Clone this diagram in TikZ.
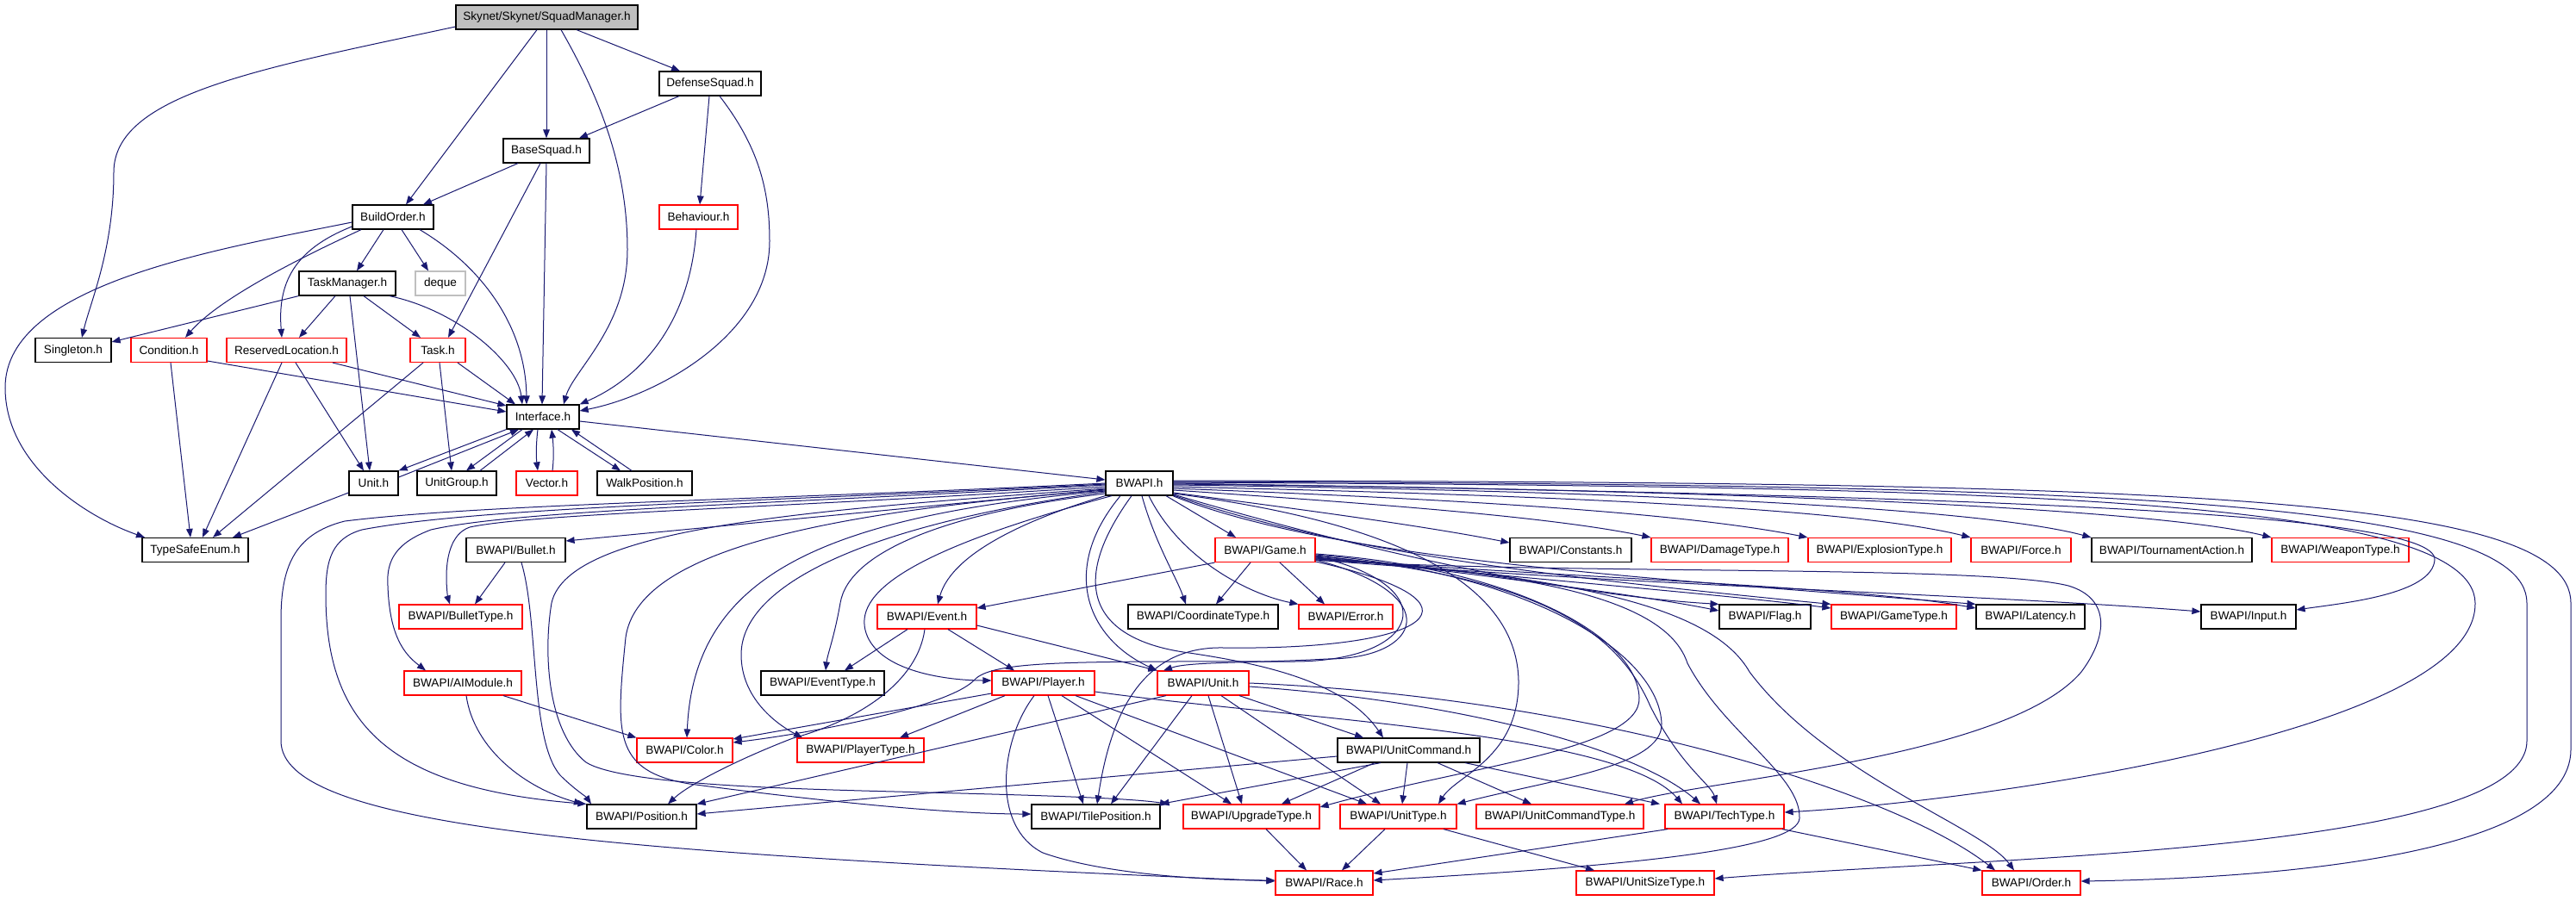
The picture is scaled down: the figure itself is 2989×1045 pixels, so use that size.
\documentclass[tikz,border=0pt]{standalone}
\usepackage{fontspec}
\setmainfont{Liberation Sans}
\usetikzlibrary{arrows.meta}
\definecolor{edgecol}{HTML}{191970}
\definecolor{rootfill}{HTML}{BFBFBF}
\tikzset{
  nb/.style={draw=black, line width=0.6pt, fill=white, inner sep=0pt, minimum height=14pt, font=\fontsize{6.8}{8}\selectfont, text=black},
  nr/.style={nb, draw=red},
  ng/.style={nb, draw=rootfill},
  e/.style={draw=edgecol, line width=0.5pt, -{Triangle[length=5pt,width=3.8pt]}},
}
\begin{document}
\begin{tikzpicture}[x=0.5pt,y=-0.5pt]
\useasboundingbox (0,0) rectangle (2989,1045);
\fill[white] (0,0) rectangle (2989,1045);
% ---------- nodes ----------
\node[nb, fill=rootfill, minimum width=105.5pt] (root) at (634.5,20) {Skynet/Skynet/SquadManager.h};
\node[nb, minimum width=59pt] (DefenseSquad) at (824,97) {DefenseSquad.h};
\node[nb, minimum width=50pt] (BaseSquad) at (634,175) {BaseSquad.h};
\node[nb, minimum width=47pt] (BuildOrder) at (456,252) {BuildOrder.h};
\node[nr, minimum width=45.5pt] (Behaviour) at (810.5,252) {Behaviour.h};
\node[nb, minimum width=56pt] (TaskManager) at (403,329) {TaskManager.h};
\node[ng, minimum width=29pt] (deque) at (511,329) {deque};
\node[nb, minimum width=44pt] (Singleton) at (85,406.5) {Singleton.h};
\node[nr, minimum width=44pt] (Condition) at (196,406.5) {Condition.h};
\node[nr, minimum width=69.5pt] (ReservedLocation) at (332.5,406.5) {ReservedLocation.h};
\node[nr, minimum width=32pt] (Task) at (508,406.5) {Task.h};
\node[nb, minimum width=42pt] (Interface) at (630,484) {Interface.h};
\node[nb, minimum width=28.5pt] (Unit) at (433.5,561) {Unit.h};
\node[nb, minimum width=46pt] (UnitGroup) at (530,561) {UnitGroup.h};
\node[nr, minimum width=35.5pt] (Vector) at (634.5,561) {Vector.h};
\node[nb, minimum width=55pt] (WalkPosition) at (748,561) {WalkPosition.h};
\node[nb, minimum width=39pt] (BWAPI) at (1322,561) {BWAPI.h};
\node[nb, minimum width=61.5pt] (TypeSafeEnum) at (226.5,638.5) {TypeSafeEnum.h};
\node[nb, minimum width=57.5pt] (Bullet) at (598.5,638.5) {BWAPI/Bullet.h};
\node[nr, minimum width=58pt] (Game) at (1468,638.5) {BWAPI/Game.h};
\node[nb, minimum width=70.5pt] (Constants) at (1822.5,638.5) {BWAPI/Constants.h};
\node[nr, minimum width=79.5pt] (DamageType) at (1995.5,638.5) {BWAPI/DamageType.h};
\node[nr, minimum width=83pt] (ExplosionType) at (2181,638.5) {BWAPI/ExplosionType.h};
\node[nr, minimum width=58pt] (Force) at (2345,638.5) {BWAPI/Force.h};
\node[nb, minimum width=93pt] (TournamentAction) at (2520,638.5) {BWAPI/TournamentAction.h};
\node[nr, minimum width=79.5pt] (WeaponType) at (2715.5,638.5) {BWAPI/WeaponType.h};
\node[nr, minimum width=71.5pt] (BulletType) at (534.5,716) {BWAPI/BulletType.h};
\node[nr, minimum width=57.5pt] (Event) at (1075.5,716) {BWAPI/Event.h};
\node[nb, minimum width=87pt] (CoordinateType) at (1396,716) {BWAPI/CoordinateType.h};
\node[nr, minimum width=54.5pt] (Error) at (1561.5,716) {BWAPI/Error.h};
\node[nb, minimum width=53pt] (Flag) at (2048,716) {BWAPI/Flag.h};
\node[nr, minimum width=72.5pt] (GameType) at (2197.5,716) {BWAPI/GameType.h};
\node[nb, minimum width=63pt] (Latency) at (2356,716) {BWAPI/Latency.h};
\node[nb, minimum width=55pt] (Input) at (2609,716) {BWAPI/Input.h};
\node[nr, minimum width=68pt] (AIModule) at (537,793) {BWAPI/AIModule.h};
\node[nb, minimum width=71.5pt] (EventType) at (954.5,793) {BWAPI/EventType.h};
\node[nr, minimum width=59.5pt] (Player) at (1210.5,793) {BWAPI/Player.h};
\node[nr, minimum width=53pt] (BUnit) at (1396,793) {BWAPI/Unit.h};
\node[nr, minimum width=55.5pt] (Color) at (794.5,871) {BWAPI/Color.h};
\node[nr, minimum width=73.5pt] (PlayerType) at (998.5,871) {BWAPI/PlayerType.h};
\node[nb, minimum width=82.5pt] (UnitCommand) at (1634.5,871) {BWAPI/UnitCommand.h};
\node[nb, minimum width=63.5pt] (Position) at (744.5,948) {BWAPI/Position.h};
\node[nb, minimum width=74.5pt] (TilePosition) at (1271.5,948) {BWAPI/TilePosition.h};
\node[nr, minimum width=79pt] (UpgradeType) at (1452,948) {BWAPI/UpgradeType.h};
\node[nr, minimum width=67.5pt] (UnitType) at (1622.5,948) {BWAPI/UnitType.h};
\node[nr, minimum width=97pt] (UnitCommandType) at (1810,948) {BWAPI/UnitCommandType.h};
\node[nr, minimum width=69pt] (TechType) at (2001,948) {BWAPI/TechType.h};
\node[nr, minimum width=56.5pt] (Race) at (1536.5,1025) {BWAPI/Race.h};
\node[nr, minimum width=80pt] (UnitSizeType) at (1909,1025) {BWAPI/UnitSizeType.h};
\node[nr, minimum width=57pt] (Order) at (2357,1025) {BWAPI/Order.h};
% ---------- Skynet part ----------
\draw[e] (root.west |- 0,31) .. controls (300,80) and (132,110) .. (132,200) .. controls (132,290) and (105,350) .. (95,0 |- Singleton.north);
\draw[e] (623,0 |- root.south) -- (471,0 |- BuildOrder.north);
\draw[e] (634,0 |- root.south) -- (634,0 |- BaseSquad.north);
\draw[e] (651,0 |- root.south) .. controls (700,120) and (728,200) .. (728,290) .. controls (728,380) and (665,430) .. (654,0 |- Interface.north);
\draw[e] (669,0 |- root.south) -- (789,0 |- DefenseSquad.north);
\draw[e] (788,0 |- DefenseSquad.south) -- (672,0 |- BaseSquad.north);
\draw[e] (823,0 |- DefenseSquad.south) -- (812,0 |- Behaviour.north);
\draw[e] (835,0 |- DefenseSquad.south) .. controls (880,170) and (893,220) .. (893,280) .. controls (893,390) and (760,460) .. (Interface.east |- 0,477);
\draw[e] (601,0 |- BaseSquad.south) -- (491,0 |- BuildOrder.north);
\draw[e] (627,0 |- BaseSquad.south) -- (520,0 |- Task.north);
\draw[e] (634,0 |- BaseSquad.south) -- (629,0 |- Interface.north);
\draw[e] (BuildOrder.west |- 0,258) .. controls (250,290) and (6,330) .. (6,450) .. controls (6,540) and (100,600) .. (168,0 |- TypeSafeEnum.north);
\draw[e] (BuildOrder.west |- 0,263) .. controls (340,290) and (322,330) .. (327,0 |- ReservedLocation.north);
\draw[e] (419,0 |- BuildOrder.south) .. controls (380,285) and (260,340) .. (215,0 |- Condition.north);
\draw[e] (445,0 |- BuildOrder.south) -- (414,0 |- TaskManager.north);
\draw[e] (466,0 |- BuildOrder.south) -- (497,0 |- deque.north);
\draw[e] (487,0 |- BuildOrder.south) .. controls (560,310) and (610,380) .. (611,0 |- Interface.north);
\draw[e] (808,0 |- Behaviour.south) .. controls (800,380) and (740,440) .. (Interface.north east);
\draw[e] (TaskManager.south west) -- (Singleton.east |- 0,397);
\draw[e] (389,0 |- TaskManager.south) -- (347,0 |- ReservedLocation.north);
\draw[e] (406,0 |- TaskManager.south) -- (429,0 |- Unit.north);
\draw[e] (422,0 |- TaskManager.south) -- (488,0 |- Task.north);
\draw[e] (452,0 |- TaskManager.south) .. controls (530,360) and (600,420) .. (606,0 |- Interface.north);
\draw[e] (198,0 |- Condition.south) -- (221,0 |- TypeSafeEnum.north);
\draw[e] (Condition.east |- 0,419) -- (Interface.west |- 0,478);
\draw[e] (327,0 |- ReservedLocation.south) -- (235,0 |- TypeSafeEnum.north);
\draw[e] (343,0 |- ReservedLocation.south) -- (422,0 |- Unit.north);
\draw[e] (386,0 |- ReservedLocation.south) -- (Interface.west |- 0,471);
\draw[e] (491,0 |- Task.south) -- (247,0 |- TypeSafeEnum.north);
\draw[e] (510,0 |- Task.south) -- (524,0 |- UnitGroup.north);
\draw[e] (531,0 |- Task.south) -- (598,0 |- Interface.north);
\draw[e] (Interface.south west) -- (Unit.north east);
\draw[e] (Unit.east |- 0,554) -- (602,0 |- Interface.south);
\draw[e] (606,0 |- Interface.south) -- (541,0 |- UnitGroup.north);
\draw[e] (557,0 |- UnitGroup.north) -- (619,0 |- Interface.south);
\draw[e] (624,0 |- Interface.south) .. controls (622,515) and (622,530) .. (624,0 |- Vector.north);
\draw[e] (641,0 |- Vector.north) .. controls (643,530) and (642,515) .. (640,0 |- Interface.south);
\draw[e] (647,0 |- Interface.south) -- (720,0 |- WalkPosition.north);
\draw[e] (733,0 |- WalkPosition.north) -- (663,0 |- Interface.south);
\draw[e] (Unit.west |- 0,572) -- (270,0 |- TypeSafeEnum.north);
\draw[e] (Interface.east |- 0,489) -- (BWAPI.west |- 0,557);
% ---------- BWAPI.h to the left ----------
\draw[e] (BWAPI.west |- 0,568) -- (Bullet.east |- 0,628);
\draw[e] (BWAPI.west |- 0,565) .. controls (900,590) and (620,596) .. (545,612) .. controls (522,620) and (518,650) .. (518,670) .. controls (518,685) and (520,695) .. (522,0 |- BulletType.north);
\draw[e] (BWAPI.west |- 0,563) .. controls (900,585) and (600,592) .. (500,615) .. controls (460,630) and (448,650) .. (450,680) .. controls (452,740) and (470,760) .. (494,0 |- AIModule.north);
\draw[e] (BWAPI.west |- 0,562) .. controls (900,582) and (560,588) .. (420,615) .. controls (385,625) and (378,650) .. (378,690) .. controls (378,840) and (450,915) .. (Position.north west);
\draw[e] (BWAPI.west |- 0,561) .. controls (900,580) and (560,585) .. (400,605) .. controls (340,620) and (326,660) .. (326,720) -- (326,860) .. controls (326,960) and (700,990) .. (Race.west |- 0,1023);
\draw[e] (BWAPI.west |- 0,569) .. controls (950,595) and (740,640) .. (726,740) .. controls (715,850) and (710,895) .. (800,910) .. controls (950,930) and (1100,945) .. (TilePosition.west |- 0,945);
\draw[e] (BWAPI.west |- 0,567) .. controls (950,592) and (660,610) .. (640,700) .. controls (630,760) and (636,850) .. (680,885) .. controls (720,910) and (900,915) .. (1000,918) .. controls (1150,922) and (1300,925) .. (1356,0 |- UpgradeType.north);
\draw[e] (BWAPI.west |- 0,570) .. controls (950,600) and (805,670) .. (797,0 |- Color.north);
\draw[e] (BWAPI.west |- 0,571) .. controls (1000,610) and (860,680) .. (860,760) .. controls (860,810) and (900,840) .. (931,0 |- PlayerType.north);
\draw[e] (BWAPI.west |- 0,573) .. controls (1100,595) and (985,640) .. (975,700) .. controls (968,740) and (960,760) .. (958,0 |- EventType.north);
\draw[e] (BWAPI.south west) .. controls (1200,600) and (1105,640) .. (1088,0 |- Event.north);
\draw[e] (1290,0 |- BWAPI.south) .. controls (1050,640) and (990,690) .. (1005,735) .. controls (1020,780) and (1100,790) .. (Player.west |- 0,790);
\draw[e] (1300,0 |- BWAPI.south) .. controls (1230,660) and (1260,740) .. (BUnit.north west);
\draw[e] (1313,0 |- BWAPI.south) .. controls (1230,690) and (1280,745) .. (1380,758) .. controls (1460,770) and (1560,790) .. (1605,0 |- UnitCommand.north);
\draw[e] (1325,0 |- BWAPI.south) .. controls (1340,630) and (1365,670) .. (1376,0 |- CoordinateType.north);
\draw[e] (1333,0 |- BWAPI.south) .. controls (1370,650) and (1450,690) .. (Error.north west);
\draw[e] (1353,0 |- BWAPI.south) -- (1434,0 |- Game.north);
% ---------- BWAPI.h to the right ----------
\draw[e] (BWAPI.east |- 0,572) .. controls (1500,590) and (1650,610) .. (Constants.west |- 0,630);
\draw[e] (BWAPI.east |- 0,569) .. controls (1600,585) and (1800,600) .. (DamageType.north west);
\draw[e] (BWAPI.east |- 0,567) .. controls (1700,580) and (1950,595) .. (ExplosionType.north west);
\draw[e] (BWAPI.east |- 0,565) .. controls (1800,575) and (2150,590) .. (Force.north west);
\draw[e] (BWAPI.east |- 0,563) .. controls (1900,570) and (2300,590) .. (TournamentAction.north west);
\draw[e] (BWAPI.east |- 0,562) .. controls (2000,568) and (2500,590) .. (WeaponType.north west);
\draw[e] (BWAPI.east |- 0,574) .. controls (1550,630) and (1800,690) .. (Flag.north west);
\draw[e] (BWAPI.east |- 0,575) .. controls (1550,640) and (1800,670) .. (GameType.north west);
\draw[e] (BWAPI.east |- 0,576) .. controls (1550,650) and (1900,670) .. (Latency.north west);
\draw[e] (BWAPI.east |- 0,561) .. controls (2200,575) and (2830,590) .. (2825,650) .. controls (2822,690) and (2720,700) .. (Input.east |- 0,708);
\draw[e] (BWAPI.east |- 0,560) .. controls (2300,565) and (2870,575) .. (2872,700) .. controls (2874,850) and (2300,930) .. (TechType.east |- 0,943);
\draw[e] (BWAPI.east |- 0,559) .. controls (2400,563) and (2932,575) .. (2932,700) -- (2932,860) .. controls (2932,990) and (2300,995) .. (UnitSizeType.east |- 0,1020);
\draw[e] (BWAPI.east |- 0,558) .. controls (2500,560) and (2983,572) .. (2983,700) -- (2983,870) .. controls (2983,1000) and (2600,1020) .. (Order.east |- 0,1023);
\draw[e] (BWAPI.east |- 0,573) .. controls (1650,610) and (1760,690) .. (1762,790) .. controls (1763,880) and (1690,900) .. (1669,0 |- UnitType.north);
% ---------- Game.h ----------
\draw[e] (Game.south west) -- (Event.east |- 0,706);
\draw[e] (1451,0 |- Game.south) -- (1411,0 |- CoordinateType.north);
\draw[e] (1485,0 |- Game.south) -- (1537,0 |- Error.north);
\draw[e] (Game.east |- 0,645) .. controls (1700,665) and (1900,690) .. (Flag.west |- 0,709);
\draw[e] (Game.east |- 0,647) .. controls (1750,670) and (2000,690) .. (GameType.west |- 0,706);
\draw[e] (Game.east |- 0,648) .. controls (1800,670) and (2150,680) .. (Latency.west |- 0,706);
\draw[e] (Game.east |- 0,650) .. controls (1900,680) and (2300,690) .. (Input.west |- 0,710);
\draw[e] (Game.east |- 0,646) .. controls (1680,680) and (1650,768) .. (1500,768) .. controls (1250,768) and (1150,766) .. (1130,790) .. controls (1100,820) and (950,850) .. (Color.east |- 0,862);
\draw[e] (Game.east |- 0,650) .. controls (1680,690) and (1650,765) .. (1540,765) .. controls (1450,770) and (1380,768) .. (1350,0 |- BUnit.north);
\draw[e] (Game.east |- 0,652) .. controls (1740,700) and (1660,755) .. (1420,752) .. controls (1330,750) and (1290,820) .. (1273,0 |- TilePosition.north);
\draw[e] (Game.east |- 0,650) .. controls (1800,668) and (2300,655) .. (2400,680) .. controls (2450,695) and (2445,740) .. (2415,780) .. controls (2330,880) and (1980,905) .. (1885,0 |- UnitCommandType.north);
\draw[e] (Game.east |- 0,649) .. controls (1800,665) and (1935,700) .. (1958,770) .. controls (2000,850) and (2090,900) .. (2088,950) .. controls (2086,985) and (1900,1005) .. (Race.east |- 0,1022);
\draw[e] (Game.east |- 0,648) .. controls (1850,670) and (1990,710) .. (2030,780) .. controls (2120,900) and (2300,960) .. (2337,0 |- Order.north);
\draw[e] (Game.east |- 0,646) .. controls (1800,670) and (1880,740) .. (1915,820) .. controls (1950,890) and (1985,910) .. (1992,0 |- TechType.north);
\draw[e] (Game.east |- 0,644) .. controls (1780,665) and (1925,760) .. (1928,840) .. controls (1930,890) and (1800,905) .. (UnitType.north east);
\draw[e] (Game.east |- 0,643) .. controls (1760,660) and (1900,740) .. (1902,810) .. controls (1905,870) and (1700,890) .. (UpgradeType.east |- 0,937);
% ---------- Bullet, AIModule, Event ----------
\draw[e] (586,0 |- Bullet.south) -- (551,0 |- BulletType.north);
\draw[e] (605,0 |- Bullet.south) .. controls (625,720) and (615,860) .. (650,900) .. controls (665,915) and (680,925) .. (686,0 |- Position.north);
\draw[e] (584,0 |- AIModule.south) -- (Color.north west);
\draw[e] (541,0 |- AIModule.south) .. controls (550,870) and (610,915) .. (676,0 |- Position.north);
\draw[e] (1053,0 |- Event.south) -- (980,0 |- EventType.north);
\draw[e] (1073,0 |- Event.south) .. controls (1065,790) and (1000,835) .. (920,857) .. controls (860,880) and (800,910) .. (775,0 |- Position.north);
\draw[e] (1100,0 |- Event.south) -- (1177,0 |- Player.north);
\draw[e] (Event.east |- 0,726) -- (BUnit.north west);
% ---------- Player.h ----------
\draw[e] (Player.west |- 0,805) -- (Color.east |- 0,858);
\draw[e] (1166,0 |- Player.south) -- (1044,0 |- PlayerType.north);
\draw[e] (1200,0 |- Player.south) .. controls (1160,860) and (1150,960) .. (1210,990) .. controls (1280,1015) and (1400,1022) .. (Race.west |- 0,1022);
\draw[e] (1216,0 |- Player.south) -- (1257,0 |- TilePosition.north);
\draw[e] (1232,0 |- Player.south) -- (1429,0 |- UpgradeType.north);
\draw[e] (1248,0 |- Player.south) -- (1586,0 |- UnitType.north);
\draw[e] (Player.east |- 0,803) .. controls (1500,835) and (1880,850) .. (1952,0 |- TechType.north);
% ---------- BWAPI/Unit.h ----------
\draw[e] (1353,0 |- BUnit.south) -- (Position.north east);
\draw[e] (1383,0 |- BUnit.south) -- (1289,0 |- TilePosition.north);
\draw[e] (1402,0 |- BUnit.south) -- (1441,0 |- UpgradeType.north);
\draw[e] (1417,0 |- BUnit.south) -- (1602,0 |- UnitType.north);
\draw[e] (1438,0 |- BUnit.south) -- (1582,0 |- UnitCommand.north);
\draw[e] (BUnit.east |- 0,797) .. controls (1700,815) and (1900,870) .. (1973,0 |- TechType.north);
\draw[e] (BUnit.east |- 0,793) .. controls (1850,810) and (2200,920) .. (2315,0 |- Order.north);
% ---------- UnitCommand.h ----------
\draw[e] (UnitCommand.west |- 0,878) -- (Position.east |- 0,945);
\draw[e] (1602,0 |- UnitCommand.south) -- (TilePosition.north east);
\draw[e] (1595,0 |- UnitCommand.south) -- (1487,0 |- UpgradeType.north);
\draw[e] (1633,0 |- UnitCommand.south) -- (1627,0 |- UnitType.north);
\draw[e] (1668,0 |- UnitCommand.south) -- (1777,0 |- UnitCommandType.north);
\draw[e] (1700,0 |- UnitCommand.south) -- (1926,0 |- TechType.north);
% ---------- bottom ----------
\draw[e] (1469,0 |- UpgradeType.south) -- (1516,0 |- Race.north);
\draw[e] (1607,0 |- UnitType.south) -- (1557,0 |- Race.north);
\draw[e] (1675,0 |- UnitType.south) -- (1850,0 |- UnitSizeType.north);
\draw[e] (1935,0 |- TechType.south) -- (Race.east |- 0,1014);
\draw[e] (2068,0 |- TechType.south) -- (Order.north west);
\end{tikzpicture}
\end{document}
